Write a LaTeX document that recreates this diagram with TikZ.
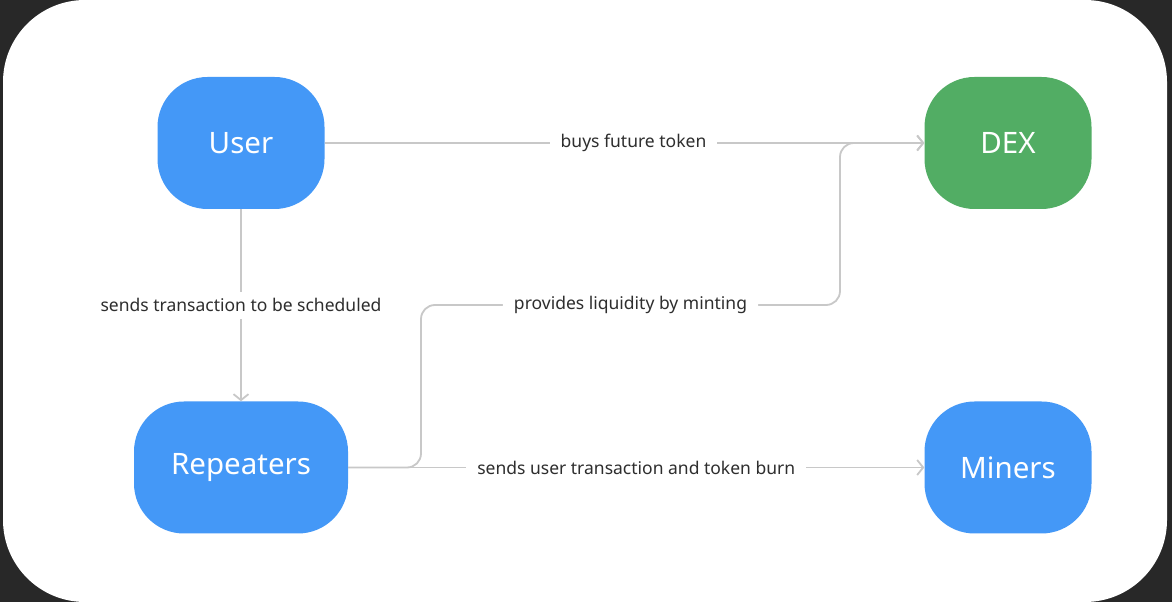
\documentclass[tikz,border=0pt]{standalone}
\usepackage{fontspec}
\setmainfont{Noto Sans}
\usetikzlibrary{arrows.meta}
\definecolor{userblue}{HTML}{4498F7}
\definecolor{dexgreen}{HTML}{52AD64}
\definecolor{linkgray}{HTML}{C8C8C8}
\definecolor{labelgray}{HTML}{2E2E2E}
\definecolor{backdark}{HTML}{282828}
\newcommand{\drawblue}{\node[fill=userblue,text=white,rounded corners=50pt,minimum height=132pt,font=\fontsize{29.5}{34}\selectfont]}
\newcommand{\drawgreen}{\node[fill=dexgreen,text=white,rounded corners=50pt,minimum height=132pt,font=\fontsize{29.5}{34}\selectfont]}
\newcommand{\drawdummy}{\coordinate}

\begin{document}
\begin{tikzpicture}[x=1pt, y=1pt,
  link/.style={draw=linkgray, line width=1.8pt, -{Straight Barb[length=6pt,width=15pt,line width=1.8pt]}},
  lbl/.style={fill=white, text=labelgray, inner xsep=11pt, inner ysep=7pt, font=\fontsize{17.5}{21}\selectfont}]
%background panel
\fill[backdark] (0,0) rectangle (1172,602);
\fill[white, rounded corners=82pt] (3,0) rectangle (1167,602);
\drawblue[minimum width=167pt] (user) at (241,459) {\raisebox{-2pt}{User}};
\drawgreen[minimum width=167pt] (dex) at (1008,459) {\raisebox{-2pt}{DEX}};
\drawblue[minimum width=214pt] (rep) at (241,134.5) {\raisebox{-2pt}{Repeaters}};
\drawblue[minimum width=167pt] (miners) at (1008,134.5) {\raisebox{-2pt}{Miners}};
\drawdummy (turn1) at (421,297);
\drawdummy (turn2) at (840,297);

\draw[link] (user) to node [lbl, pos=0.515] {\raisebox{-2pt}{buys future token}} (dex);
\draw[link] (user) to node [lbl, midway] {sends transaction to be scheduled} (rep);
\draw[link] (rep) to node [lbl, midway] {sends user transaction and token burn} (miners);
\draw[link, rounded corners=14pt] (rep.east) -| (turn1) to node [lbl, midway] {\raisebox{-2pt}{provides liquidity by minting}} (turn2) |- (dex.west);
\end{tikzpicture}
\end{document}
